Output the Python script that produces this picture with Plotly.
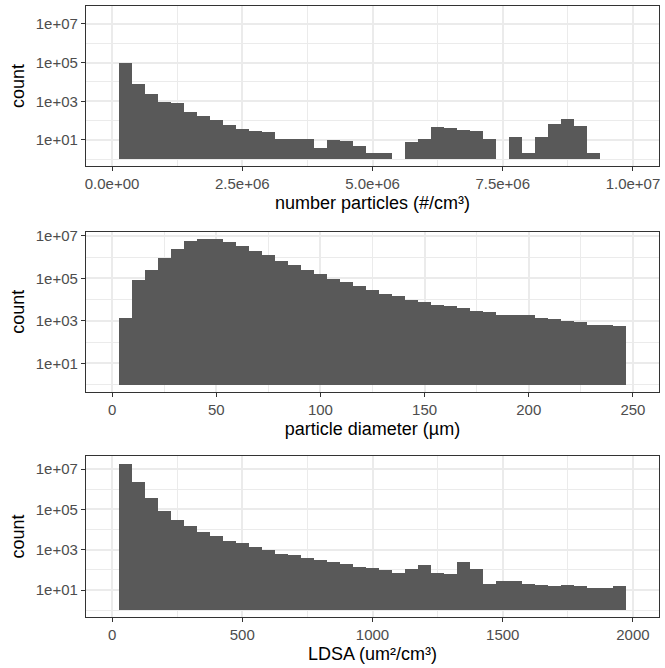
import numpy as np
import plotly.graph_objects as go

# ---- data ----
# Panel 1: number particles (#/cm3), binwidth 250000
np_bin_width = 250000
np_counts = [98000, 7900, 2400, 950, 830, 280, 175, 107, 60, 37, 29, 26, 11, 11, 11, 4,
             10, 9, 5, 2, 2, 1, 8, 11, 47, 41, 33, 29, 11, 1, 14, 2, 14, 67, 121, 53, 2]
# Panel 2: particle diameter (um), binwidth 6.25
pd_bin_width = 6.25
pd_counts = [1400, 83000, 245000, 891000, 2570000, 5620000, 7080000, 7000000, 5250000,
             3310000, 1900000, 1230000, 646000, 417000, 245000, 158000, 91000, 66000,
             43600, 28200, 18200, 14500, 9550, 7600, 5500, 4900, 3980, 3160, 2570, 2040,
             1860, 1860, 1480, 1200, 977, 871, 692, 631, 562]
# Panel 3: LDSA (um2/cm3), binwidth 50
ld_bin_width = 50
ld_counts = [17800000, 2290000, 363000, 83000, 29500, 14800, 7400, 4700, 2630, 2090, 1320,
             955, 603, 537, 380, 302, 240, 191, 135, 120, 95, 68, 107, 170, 68, 60, 240, 107,
             21, 27, 27, 21, 17, 15, 17, 15, 12, 12, 15]

np_ticks = [0, 2.5e6, 5e6, 7.5e6, 1e7]
np_ticktext = ["0.0e+00", "2.5e+06", "5.0e+06", "7.5e+06", "1.0e+07"]
pd_ticks = [0, 50, 100, 150, 200, 250]
ld_ticks = [0, 500, 1000, 1500, 2000]
y_ticks = [10, 1e3, 1e5, 1e7]
y_ticktext = ["1e+01", "1e+03", "1e+05", "1e+07"]
y_minor = [1, 100, 1e4, 1e6]

x_titles = ["number particles (#/cm³)", "particle diameter (µm)", "LDSA (um²/cm³)"]

panels = [
    (np_counts, np_bin_width, np_ticks, np_ticktext, [-0.5e6, 10.5e6], [-0.35, 7.93]),
    (pd_counts, pd_bin_width, pd_ticks, [str(v) for v in pd_ticks], [-12.5, 262.5], [-0.33, 7.19]),
    (ld_counts, ld_bin_width, ld_ticks, [str(v) for v in ld_ticks], [-100, 2100], [-0.34, 7.65]),
]

W, H = 665, 668
mt, mb, ml, mr = 6, 51, 86, 6
ph = H - mt - mb
# panel tops/bottoms in px (from top of plotting area)
panel_px = [(0, 160), (225.7, 385.7), (450, 611)]

FONT = "Liberation Sans, Arial, Helvetica, sans-serif"
BAR = "#595959"
GRID = "#EBEBEB"
BORDER = "#333333"

fig = go.Figure()
layout = dict(
    width=W, height=H,
    margin=dict(l=ml, r=mr, t=mt, b=mb, pad=0, autoexpand=False),
    paper_bgcolor="white", plot_bgcolor="white",
    showlegend=False, bargap=0,
    font=dict(family=FONT, color="black"),
)

for i, (counts, bw, xt, xtt, xr, yr) in enumerate(panels):
    n = i + 1
    xa = "x" if n == 1 else f"x{n}"
    ya = "y" if n == 1 else f"y{n}"
    centers = bw * np.arange(1, len(counts) + 1)
    c = np.array(counts, dtype=float)
    fig.add_trace(go.Bar(
        x=centers, y=c - 1, base=1, width=bw,
        marker=dict(color=BAR, line=dict(width=0)),
        xaxis=xa, yaxis=ya, hoverinfo="skip",
    ))
    top, bot = panel_px[i]
    dom = [1 - bot / ph, 1 - top / ph]
    minor_x = [(xt[k] + xt[k + 1]) / 2 for k in range(len(xt) - 1)]
    axis_common = dict(
        showline=True, mirror=True, linecolor=BORDER, linewidth=1.3,
        ticks="outside", ticklen=4, tickwidth=1.1, tickcolor=BORDER,
        tickfont=dict(family=FONT, size=15, color="#4D4D4D"),
        showgrid=True, gridcolor=GRID, gridwidth=1.5, zeroline=False,
        automargin=False,
    )
    layout[f"xaxis{n if n > 1 else ''}"] = dict(
        axis_common, domain=[0, 1], anchor=ya, range=xr,
        tickmode="array", tickvals=xt, ticktext=xtt,
        minor=dict(tickmode="array", tickvals=minor_x, showgrid=True,
                   gridcolor=GRID, gridwidth=0.8, ticks=""),
        title=dict(text=x_titles[i], font=dict(family=FONT, size=18, color="black"),
                   standoff=5),
    )
    layout[f"yaxis{n if n > 1 else ''}"] = dict(
        axis_common, domain=dom, anchor=xa, type="log", range=yr,
        tickmode="array", tickvals=y_ticks, ticktext=y_ticktext,
        minor=dict(tickmode="array", tickvals=y_minor, showgrid=True,
                   gridcolor=GRID, gridwidth=0.8, ticks=""),
        title=dict(text="count", font=dict(family=FONT, size=18, color="black"),
                   standoff=6),
    )

fig.update_layout(**layout)
fig.write_html("out.html", config={"displayModeBar": False},
               post_script="document.body.style.margin='0';")
